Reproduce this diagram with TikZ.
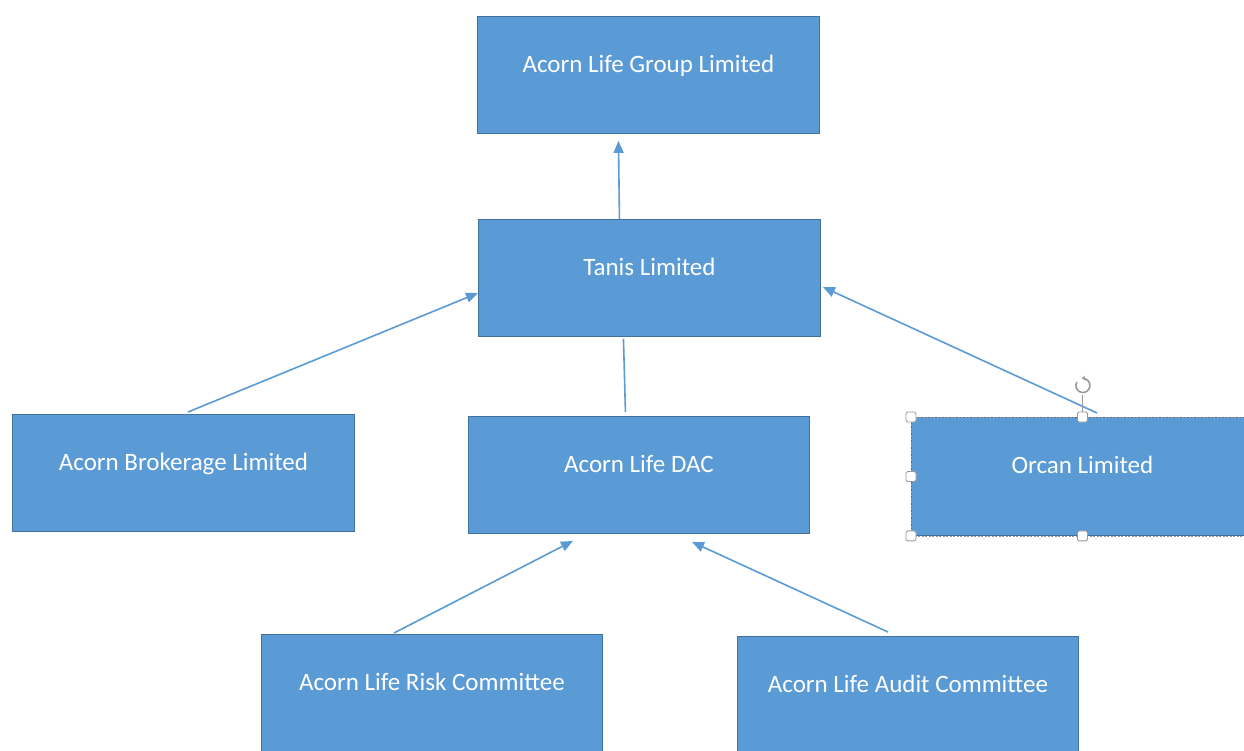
\documentclass[tikz,border=0pt]{standalone}
\usepackage{fontspec}
\setmainfont{Carlito}
\usetikzlibrary{arrows.meta}
\definecolor{boxfill}{HTML}{5B9BD5}
\definecolor{boxline}{HTML}{41719C}
\definecolor{handle}{HTML}{9A9A9A}
\begin{document}
\begin{tikzpicture}[x=1pt,y=-1pt,
  orgbox/.style={draw=boxline,line width=0.9pt,fill=boxfill,anchor=north west,
    minimum width=342pt,minimum height=117pt,inner sep=0pt,text=white,
    font=\fontsize{25}{30}\selectfont,text height=17pt,text depth=22pt},
  link/.style={draw=boxfill,line width=1.6pt},
  arr/.style={link,-{Triangle[length=12pt,width=10pt]}},
  hdl/.style={draw=handle,fill=white,line width=0.9pt,rounded corners=1.5pt,
    minimum size=10pt,inner sep=0pt}]
\useasboundingbox (0,0) rectangle (1244,750);
\fill[white] (0,0) rectangle (1244,750);
\clip (0,0) rectangle (1244,750);
\node[orgbox] (g) at (477,16) {Acorn Life Group Limited};
\node[orgbox] (t) at (478,219) {Tanis Limited};
\node[orgbox] (b) at (12,414) {Acorn Brokerage Limited};
\node[orgbox,minimum width=341pt] (d) at (468,416) {Acorn Life DAC};
\node[orgbox,minimum height=118pt] (o) at (911,417) {Orcan Limited};
\node[orgbox,minimum width=341pt] (r) at (261,634) {Acorn Life Risk Committee};
\node[orgbox,minimum width=341pt] (a) at (737,636) {Acorn Life Audit Committee};
% connectors
\draw[arr] ([xshift=-30pt]t.north) -- ([xshift=-30pt,yshift=-7pt]g.south);
\draw[arr] ([xshift=176pt,yshift=2pt]b.north west) -- ([yshift=-74pt]t.north west);
\draw[link] ([xshift=-13.5pt,yshift=4pt]d.north) -- ([xshift=-26pt,yshift=-2pt]t.south);
\draw[arr] ([xshift=186pt,yshift=4pt]o.north west) -- ([xshift=2pt,yshift=-68pt]t.north east);
\draw[arr] ([xshift=133pt,yshift=1pt]r.north west) -- ([xshift=105pt,yshift=-7pt]d.south west);
\draw[arr] ([xshift=151pt,yshift=4pt]a.north west) -- ([xshift=224pt,yshift=-8pt]d.south west);
% selection frame on Orcan Limited
\draw[handle,dashed,dash pattern=on 2pt off 1.5pt,line width=0.8pt] (o.north west) rectangle (o.south east);
\draw[handle,line width=0.9pt] (o.north) -- ++(0,-22);
\draw[handle,line width=1.6pt,-{Stealth[length=4pt,width=5pt]}] ([yshift=32pt]o.north) ++(-5.6,-3) arc[start angle=210,end angle=-100,radius=7];
\node[hdl] (h1) at (o.north west) {};
\node[hdl] (h2) at (o.north) {};
\node[hdl] (h3) at (o.west) {};
\node[hdl] (h4) at (o.south west) {};
\node[hdl] (h5) at (o.south) {};
\end{tikzpicture}
\end{document}
